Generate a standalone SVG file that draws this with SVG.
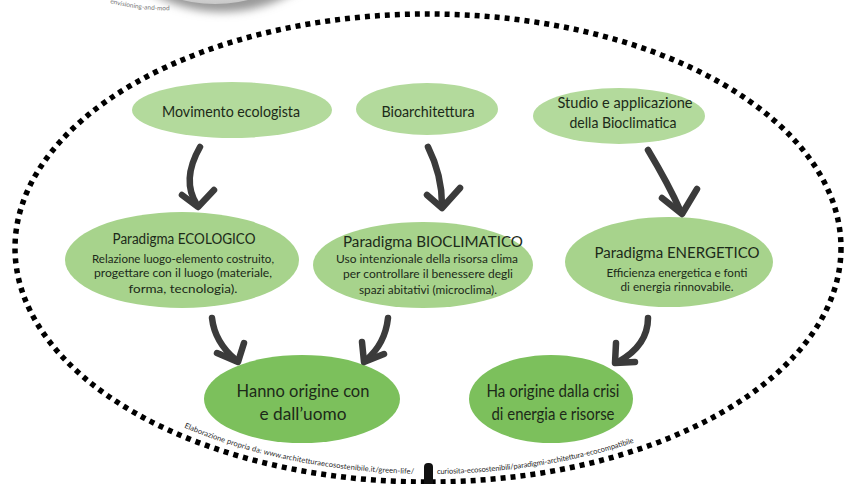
<svg xmlns="http://www.w3.org/2000/svg" width="852" height="484" viewBox="0 0 852 484">
<defs>
<radialGradient id="badge" cx="0.5" cy="0.4" r="0.6">
<stop offset="0" stop-color="#ffffff"/>
<stop offset="0.8" stop-color="#eeeeee"/>
<stop offset="1" stop-color="#c8c8c8"/>
</radialGradient>
<filter id="blur" x="-20%" y="-20%" width="140%" height="140%"><feGaussianBlur stdDeviation="4"/></filter>
<path id="badgeTxt" d="M110,3 Q160,16 212,6"/>
<path id="foot1" d="M184,427.5 A405,226 0 0 0 424,474"/>
<path id="foot2" d="M437,474 A405,226 0 0 0 640,440.6"/>
</defs>
<style>
.n1{fill:#b3da9c}
.n2{fill:#a7d38c}
.n3{fill:#7cc05c}
text{font-family:Lato,"Open Sans","Liberation Sans",sans-serif;fill:#1c2a19;text-anchor:middle}
.t{font-size:15px}
.h{font-size:14.5px}
.b{font-size:11.5px}
.big{font-size:16.5px}
.arr{fill:none;stroke:#3b3b3b;stroke-width:6.5;stroke-linecap:round;stroke-linejoin:round}
.foot{font-size:7.5px;fill:#2a2a2a;text-anchor:start}
</style>
<rect width="852" height="484" fill="#ffffff"/>
<g id="badge-top">
<ellipse cx="222" cy="-96" rx="126" ry="108" fill="#9a9a9a" filter="url(#blur)"/>
<ellipse cx="215" cy="-100" rx="120" ry="104" fill="url(#badge)"/>
<text font-size="6.5px" style="fill:#777;text-anchor:start"><textPath href="#badgeTxt">envisioning-and-mod</textPath></text>
</g>
<g id="frame">
<ellipse cx="428" cy="248" rx="413" ry="234" fill="none" stroke="#000" stroke-width="5.5" stroke-dasharray="5 5"/>
<rect x="424" y="463" width="9" height="26" rx="4" fill="#111"/>
<text class="foot"><textPath href="#foot1" textLength="236">Elaborazione propria da: www.architetturaecosostenibile.it/green-life/</textPath></text>
<text class="foot"><textPath href="#foot2" textLength="200">curiosita-ecosostenibili/paradigmi-architettura-ecocompatibile</textPath></text>
</g>
<g id="movimento">
<ellipse class="n1" cx="232" cy="110" rx="100" ry="28"/>
<text class="t" x="231" y="117" textLength="138" lengthAdjust="spacingAndGlyphs">Movimento ecologista</text>
</g>
<g id="bioarchitettura">
<ellipse class="n1" cx="427" cy="109" rx="71" ry="26"/>
<text class="t" x="428" y="117" textLength="93" lengthAdjust="spacingAndGlyphs">Bioarchitettura</text>
</g>
<g id="studio">
<ellipse class="n1" cx="619" cy="116" rx="86" ry="28"/>
<text class="t" x="625" y="108" textLength="135" lengthAdjust="spacingAndGlyphs">Studio e applicazione</text>
<text class="t" x="623" y="128" textLength="107" lengthAdjust="spacingAndGlyphs">della Bioclimatica</text>
</g>
<g id="ecologico">
<ellipse class="n2" cx="182" cy="260" rx="117" ry="48"/>
<text class="h" x="184" y="244" textLength="143" lengthAdjust="spacingAndGlyphs">Paradigma ECOLOGICO</text>
<text class="b" x="183" y="263" textLength="182" lengthAdjust="spacingAndGlyphs">Relazione luogo-elemento costruito,</text>
<text class="b" x="183" y="277" textLength="178" lengthAdjust="spacingAndGlyphs">progettare con il luogo (materiale,</text>
<text class="b" x="183" y="293" textLength="109" lengthAdjust="spacingAndGlyphs">forma, tecnologia).</text>
</g>
<g id="bioclimatico">
<ellipse class="n2" cx="423" cy="265" rx="110" ry="43"/>
<text class="h" x="433" y="247" textLength="180" lengthAdjust="spacingAndGlyphs">Paradigma BIOCLIMATICO</text>
<text class="b" x="427" y="263" textLength="182" lengthAdjust="spacingAndGlyphs">Uso intenzionale della risorsa clima</text>
<text class="b" x="428" y="278" textLength="170" lengthAdjust="spacingAndGlyphs">per controllare il benessere degli</text>
<text class="b" x="428" y="294" textLength="138" lengthAdjust="spacingAndGlyphs">spazi abitativi (microclima).</text>
</g>
<g id="energetico">
<ellipse class="n2" cx="669" cy="262" rx="104" ry="45"/>
<text class="h" x="677" y="258" textLength="165" lengthAdjust="spacingAndGlyphs">Paradigma ENERGETICO</text>
<text class="b" x="677" y="277" textLength="141" lengthAdjust="spacingAndGlyphs">Efficienza energetica e fonti</text>
<text class="b" x="677" y="291" textLength="113" lengthAdjust="spacingAndGlyphs">di energia rinnovabile.</text>
</g>
<g id="uomo">
<ellipse class="n3" cx="302" cy="399" rx="98" ry="44"/>
<text class="big" x="303" y="397">Hanno origine con</text>
<text class="big" x="303" y="420" textLength="87" lengthAdjust="spacingAndGlyphs">e dall’uomo</text>
</g>
<g id="crisi">
<ellipse class="n3" cx="551" cy="399" rx="82" ry="44"/>
<text class="big" x="553" y="397" textLength="133" lengthAdjust="spacingAndGlyphs">Ha origine dalla crisi</text>
<text class="big" x="553" y="420" textLength="123" lengthAdjust="spacingAndGlyphs">di energia e risorse</text>
</g>
<g id="connectors">
<path class="arr" d="M200,147 C188,168 186,188 197,205"/>
<path class="arr" d="M182,195 L198,207 L214,190"/>
<path class="arr" d="M428,147 C437,165 442,186 442,205"/>
<path class="arr" d="M427,195 L442,208 L460,188"/>
<path class="arr" d="M648,150 C660,170 672,192 681,212"/>
<path class="arr" d="M662,198 L682,214 L697,189"/>
<path class="arr" d="M212,318 C214,336 224,350 236,360"/>
<path class="arr" d="M217,353 L238,362 L244,343"/>
<path class="arr" d="M388,318 C386,336 378,350 366,360"/>
<path class="arr" d="M362,342 L364,362 L384,354"/>
<path class="arr" d="M648,318 C648,338 636,352 618,362"/>
<path class="arr" d="M616,343 L615,363 L635,362"/>
</g>
</svg>
